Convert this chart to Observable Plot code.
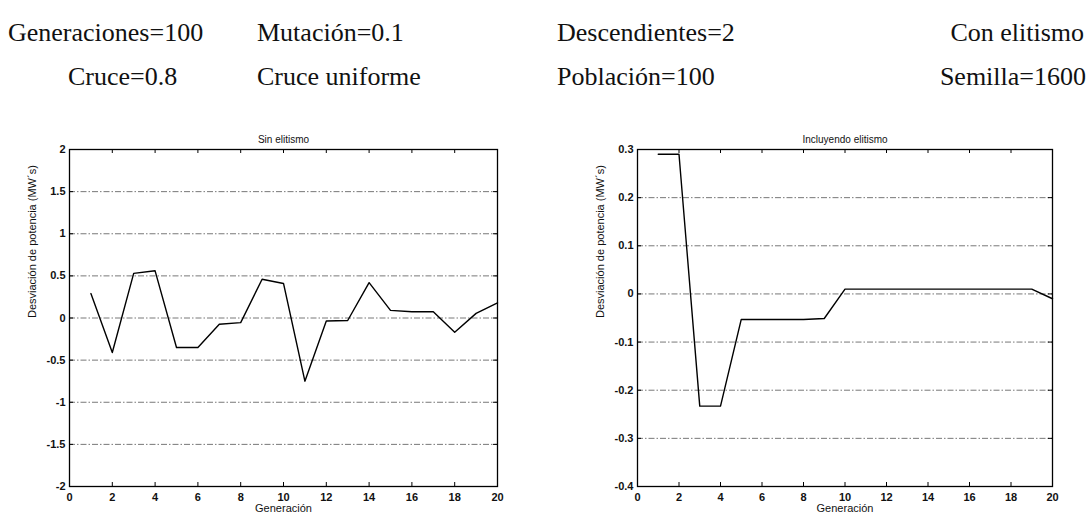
<!DOCTYPE html>
<html>
<head>
<meta charset="utf-8">
<script src="https://cdn.jsdelivr.net/npm/d3@7"></script>
<script src="https://cdn.jsdelivr.net/npm/@observablehq/plot@0.6"></script>
<style>
  body { margin: 0; background: #fff; }
  #page { position: relative; width: 1088px; height: 520px; overflow: hidden; background: #fff; }
  .hdr { position: absolute; font-family: "Liberation Serif", "Times New Roman", serif; font-size: 26px; line-height: 1; white-space: nowrap; color: #111; }
  .panel { position: absolute; top: 120px; }
</style>
</head>
<body>
<div id="page"></div>
<script>
// Parámetros del algoritmo genético (cabecera)
const parametrosFila1 = ["Generaciones=100", "Mutación=0.1", "Descendientes=2", "Con elitismo"];
const parametrosFila2 = ["Cruce=0.8", "Cruce uniforme", "Población=100", "Semilla=1600"];

// Generaciones del eje x
const generacion = [1, 2, 3, 4, 5, 6, 7, 8, 9, 10, 11, 12, 13, 14, 15, 16, 17, 18, 19, 20];

// Desviación de potencia (MW·s) por generación
const sinElitismo = [0.29, -0.41, 0.53, 0.56, -0.35, -0.35, -0.075, -0.055, 0.46, 0.41,
                     -0.75, -0.035, -0.03, 0.42, 0.09, 0.075, 0.075, -0.17, 0.055, 0.18];
const conElitismo = [0.29, 0.29, -0.233, -0.233, -0.053, -0.053, -0.053, -0.053, -0.051, 0.01,
                     0.01, 0.01, 0.01, 0.01, 0.01, 0.01, 0.01, 0.01, 0.01, -0.01];

// Marcas de los ejes
const ticksX = [0, 2, 4, 6, 8, 10, 12, 14, 16, 18, 20];
const ticksYSin = [-2, -1.5, -1, -0.5, 0, 0.5, 1, 1.5, 2];
const ticksYCon = [-0.4, -0.3, -0.2, -0.1, 0, 0.1, 0.2, 0.3];

const titulos = ["Sin elitismo", "Incluyendo elitismo"];
const etiquetaX = "Generación";
const etiquetaY = "Desviación de potencia (MW´s)";

const page = document.getElementById("page");

// Cabecera con los parámetros
function hdr(text, style) {
  const d = document.createElement("div");
  d.className = "hdr";
  d.textContent = text;
  Object.assign(d.style, style);
  page.appendChild(d);
}
const fila1Pos = [{left: "8px"}, {left: "257px"}, {left: "557px"}, {right: "4px"}];
const fila2Pos = [{left: "68px"}, {left: "257px"}, {left: "557px"}, {right: "2px"}];
parametrosFila1.forEach((t, i) => hdr(t, {top: "20px", ...fila1Pos[i]}));
parametrosFila2.forEach((t, i) => hdr(t, {top: "64px", ...fila2Pos[i]}));

// Un panel de estilo MATLAB: marco, marcas hacia dentro y rejilla punto-raya
function panel({valores, dominioY, ticksY, titulo, left, marginLeft, marginRight}) {
  const width = 520, height = 400, marginTop = 29, marginBottom = 34;
  const fw = width - marginLeft - marginRight;
  const fh = height - marginTop - marginBottom;
  const datos = generacion.map((g, i) => ({g, v: valores[i]}));
  const fmt = d => String(+d.toFixed(2));
  const svg = Plot.plot({
    width, height, marginLeft, marginRight, marginTop, marginBottom,
    style: {fontFamily: "Liberation Sans, Arial, sans-serif", fontSize: "11px", color: "#111", background: "transparent"},
    x: {domain: [0, 20], ticks: ticksX, tickFormat: fmt},
    y: {domain: dominioY, ticks: ticksY, tickFormat: fmt},
    marks: [
      Plot.ruleY(ticksY.slice(1, -1), {y: d => d, stroke: "#555", strokeWidth: 0.8, strokeDasharray: "6,2,1.5,2"}),
      Plot.axisX({ticks: ticksX, tickSize: 0, tickPadding: 7, tickFormat: fmt, label: null, fontWeight: "bold"}),
      Plot.axisY({ticks: ticksY, tickSize: 0, tickPadding: 4, tickFormat: fmt, label: null, fontWeight: "bold"}),
      Plot.tickX(ticksX, {x: d => d, insetTop: fh - 4, stroke: "#000"}),
      Plot.tickX(ticksX, {x: d => d, insetBottom: fh - 4, stroke: "#000"}),
      Plot.tickY(ticksY, {y: d => d, insetRight: fw - 4, stroke: "#000"}),
      Plot.tickY(ticksY, {y: d => d, insetLeft: fw - 4, stroke: "#000"}),
      Plot.line(datos, {x: "g", y: "v", stroke: "#000", strokeWidth: 1.4}),
      Plot.frame({stroke: "#000", strokeWidth: 1.3}),
      Plot.text([titulo], {text: d => d, frameAnchor: "top", dy: -14, fontSize: 10}),
      Plot.text([etiquetaX], {text: d => d, frameAnchor: "bottom", dy: 25, fontSize: 11}),
      Plot.text([etiquetaY], {text: d => d, frameAnchor: "left", dx: -37, rotate: -90, fontSize: 11})
    ]
  });
  svg.classList.add("panel");
  svg.style.left = left + "px";
  page.appendChild(svg);
}

panel({valores: sinElitismo, dominioY: [-2, 2], ticksY: ticksYSin, titulo: titulos[0], left: 0, marginLeft: 69, marginRight: 23});
panel({valores: conElitismo, dominioY: [-0.4, 0.3], ticksY: ticksYCon, titulo: titulos[1], left: 560, marginLeft: 77, marginRight: 28});
</script>
</body>
</html>
